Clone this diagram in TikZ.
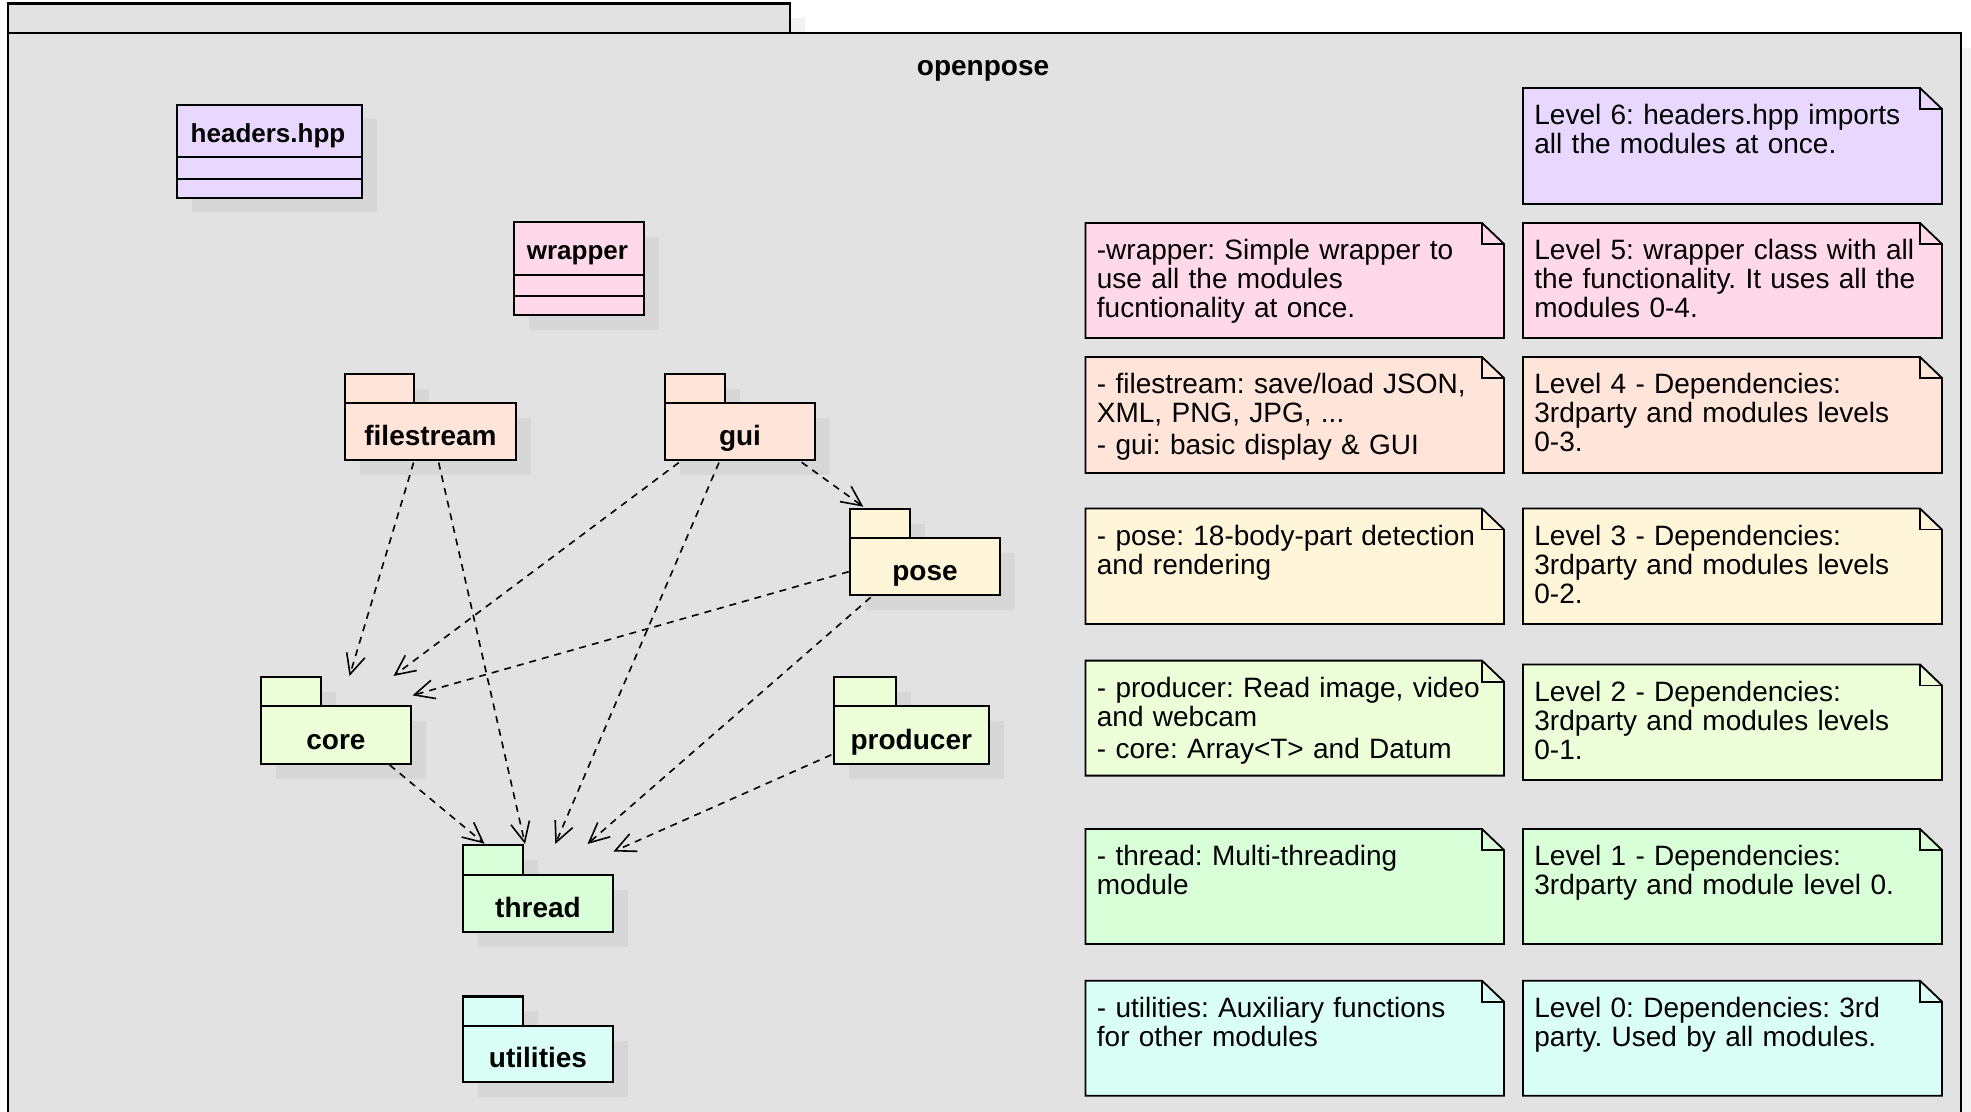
\documentclass[tikz,border=0pt]{standalone}
\usepackage{fontspec}
\setmainfont{Liberation Sans}
\usetikzlibrary{arrows.meta,calc}
\frenchspacing

\definecolor{bgframe}{HTML}{E2E2E2}
\definecolor{shadowgray}{HTML}{D7D7D7}
\definecolor{shadowlight}{HTML}{F2F2F2}
\definecolor{lvsix}{HTML}{E8D8FF}
\definecolor{lvfive}{HTML}{FFD8EA}
\definecolor{lvfour}{HTML}{FFE4D9}
\definecolor{lvthree}{HTML}{FFF6D9}
\definecolor{lvtwo}{HTML}{EDFFD9}
\definecolor{lvone}{HTML}{D9FFD9}
\definecolor{lvzero}{HTML}{D9FFF6}

\tikzset{
  framebox/.style={draw=black, line width=1.2pt, fill=bgframe},
  boxline/.style={draw=black, line width=1.1pt},
  pkgshape/.style={boxline, rectangle, inner sep=0pt, outer sep=0pt},
  pkglabel/.style={anchor=base, inner sep=0pt, font=\bfseries\fontsize{14pt}{16pt}\selectfont},
  classlabel/.style={anchor=base, inner sep=0pt, font=\bfseries\fontsize{13pt}{15pt}\selectfont},
  notetext/.style={anchor=base west, inner sep=0pt, text width=205pt, align=left,
                   font=\fontsize{14pt}{14.5pt}\selectfont},
  noteline/.style={draw=black, line width=0.9pt},
  dep/.style={draw=black, line width=0.8pt, dash pattern=on 3.5pt off 3pt,
              -{Straight Barb[length=10pt,width=9.5pt,line width=0.8pt]}},
}

% #1 name, #2 left, #3 tab top, #4 tab right, #5 body top, #6 right, #7 bottom, #8 colour, #9 label
\newcommand{\pkgdraw}[9]{%
  \fill[shadowgray] ({#2+15},{#3+15}) rectangle ({#4+15},{#5+15});
  \fill[shadowgray] ({#2+15},{#5+15}) rectangle ({#6+15},{#7+15});
  \node[pkgshape, fill=#8, minimum width={(#4-#2)*0.5pt}, minimum height={(#5-#3)*0.5pt}]
     (#1-tab) at ({(#2+#4)/2},{(#3+#5)/2}) {};
  \node[pkgshape, fill=#8, minimum width={(#6-#2)*0.5pt}, minimum height={(#7-#5)*0.5pt}]
     (#1) at ({(#2+#6)/2},{(#5+#7)/2}) {};
  \node[pkglabel] (#1-label) at ({(#2+#6)/2},{#7-14.5}) {#9};
}

% #1 name, #2 left, #3 top, #4 right, #5 bottom, #6 div1, #7 div2, #8 colour, #9 label
\newcommand{\classdraw}[9]{%
  \fill[shadowgray] ({#2+15},{#3+14.5}) rectangle ({#4+15},{#5+14.5});
  \node[pkgshape, fill=#8, minimum width={(#4-#2)*0.5pt}, minimum height={(#5-#3)*0.5pt}]
     (#1) at ({(#2+#4)/2},{(#3+#5)/2}) {};
  \draw[boxline] (#2,#6) -- (#4,#6);
  \draw[boxline] (#2,#7) -- (#4,#7);
  \node[classlabel] (#1-label) at ({(#2+#4)/2-1.5},{#3+37.5}) {#9};
}

% #1 name, #2 left, #3 top, #4 right, #5 bottom, #6 colour, #7 text
\newcommand{\notedraw}[7]{%
  \filldraw[noteline, fill=#6] (#2,#3) -- ({#4-22},#3) -- (#4,{#3+21}) -- (#4,#5) -- (#2,#5) -- cycle;
  \draw[noteline] ({#4-22},#3) -- ({#4-22},{#3+21}) -- (#4,{#3+21});
  \node[notetext] (#1) at ({#2+11},{#3+36.5}) {#7};
}

\begin{document}
\begin{tikzpicture}[x=0.5pt,y=-0.5pt]
\useasboundingbox (0,0) rectangle (1971,1112);
\clip (0,0) rectangle (1971,1112);
\fill[white] (0,0) rectangle (1971,1112);

% outer package frame
\fill[shadowlight] (23,18.5) rectangle (805,48);
\fill[shadowlight] (23,48) rectangle (1976,1140);
\draw[framebox] (8,3.5) rectangle (790,33);
\draw[framebox] (8,33) rectangle (1961,1140);
\node[pkglabel] (title) at (983,75.5) {openpose};

% classes
\classdraw{hdr}{177}{104.7}{362}{198}{156.7}{179}{lvsix}{headers.hpp}
\classdraw{wrap}{513.8}{222.3}{644}{315.3}{275.3}{296.3}{lvfive}{wrapper}

% packages
\pkgdraw{fs}{345}{373.7}{413.8}{403.2}{516}{460.3}{lvfour}{filestream}
\pkgdraw{gui}{665}{373.7}{725}{403.2}{815}{460.3}{lvfour}{gui}
\pkgdraw{pose}{850}{508.7}{910.3}{538.3}{1000}{595}{lvthree}{pose}
\pkgdraw{core}{261}{677}{321}{706.2}{411}{763.6}{lvtwo}{core}
\pkgdraw{prod}{833.6}{677}{896}{706.2}{989}{763.6}{lvtwo}{producer}
\pkgdraw{thread}{463}{845}{523}{874.9}{613}{931.9}{lvone}{thread}
\pkgdraw{util}{463}{996.4}{523}{1026.2}{613}{1082}{lvzero}{utilities}

% dependencies
\draw[dep] ($(fs.south west)+(68.6,2.3)$) -- ($(core.north west)+(88.5,-30.2)$);
\draw[dep] ($(fs.south west)+(93.7,2.3)$) -- ($(thread.north west)+(62,-30.9)$);
\draw[dep] ($(gui.south west)+(13.8,2.3)$) -- ($(core.north west)+(132.5,-30.2)$);
\draw[dep] ($(gui.south west)+(54,2.3)$) -- ($(thread.north west)+(92.3,-30.9)$);
\draw[dep] ($(gui.south west)+(136.7,2)$) -- ($(pose.north west)+(13.3,-31.6)$);
\draw[dep] ($(pose.north west)+(-1.3,33.4)$) -- ($(core.north west)+(151.5,-10.8)$);
\draw[dep] ($(pose.south west)+(20.7,2.3)$) -- ($(thread.north west)+(124.5,-30.9)$);
\draw[dep] ($(prod.north west)+(-2.2,48.6)$) -- ($(thread.north west)+(150.5,-23.4)$);
\draw[dep] ($(core.south west)+(128.7,1.4)$) -- ($(thread.north west)+(21.5,-31.2)$);

% notes
\notedraw{n6}{1523}{88}{1942}{204}{lvsix}{Level 6: headers.hpp imports\\all the modules at once.}
\notedraw{n5a}{1085.5}{223}{1504}{338}{lvfive}{-wrapper: Simple wrapper to\\use all the modules\\fucntionality at once.}
\notedraw{n5}{1523}{223}{1942}{338}{lvfive}{Level 5: wrapper class with all\\the functionality. It uses all the\\modules 0-4.}
\notedraw{n4a}{1085.5}{357}{1504}{473}{lvfour}{- filestream: save/load JSON,\\XML, PNG, JPG, ...\\[1.5pt]- gui: basic display \& GUI}
\notedraw{n4}{1523}{357}{1942}{473}{lvfour}{Level 4 - Dependencies:\\3rdparty and modules levels\\0-3.}
\notedraw{n3a}{1085.5}{508.6}{1504}{624}{lvthree}{- pose: 18-body-part detection\\and rendering}
\notedraw{n3}{1523}{508.6}{1942}{624}{lvthree}{Level 3 - Dependencies:\\3rdparty and modules levels\\0-2.}
\notedraw{n2a}{1085.5}{660.6}{1504}{775.6}{lvtwo}{- producer: Read image, video\\and webcam\\[1.5pt]- core: Array<T> and Datum}
\notedraw{n2}{1523}{664.5}{1942}{780}{lvtwo}{Level 2 - Dependencies:\\3rdparty and modules levels\\0-1.}
\notedraw{n1a}{1085.5}{829}{1504}{944}{lvone}{- thread: Multi-threading\\module}
\notedraw{n1}{1523}{829}{1942}{944}{lvone}{Level 1 - Dependencies:\\3rdparty and module level 0.}
\notedraw{n0a}{1085.5}{980.7}{1504}{1095.7}{lvzero}{- utilities: Auxiliary functions\\for other modules}
\notedraw{n0}{1523}{980.7}{1942}{1095.7}{lvzero}{Level 0: Dependencies: 3rd\\party. Used by all modules.}
\end{tikzpicture}
\end{document}
